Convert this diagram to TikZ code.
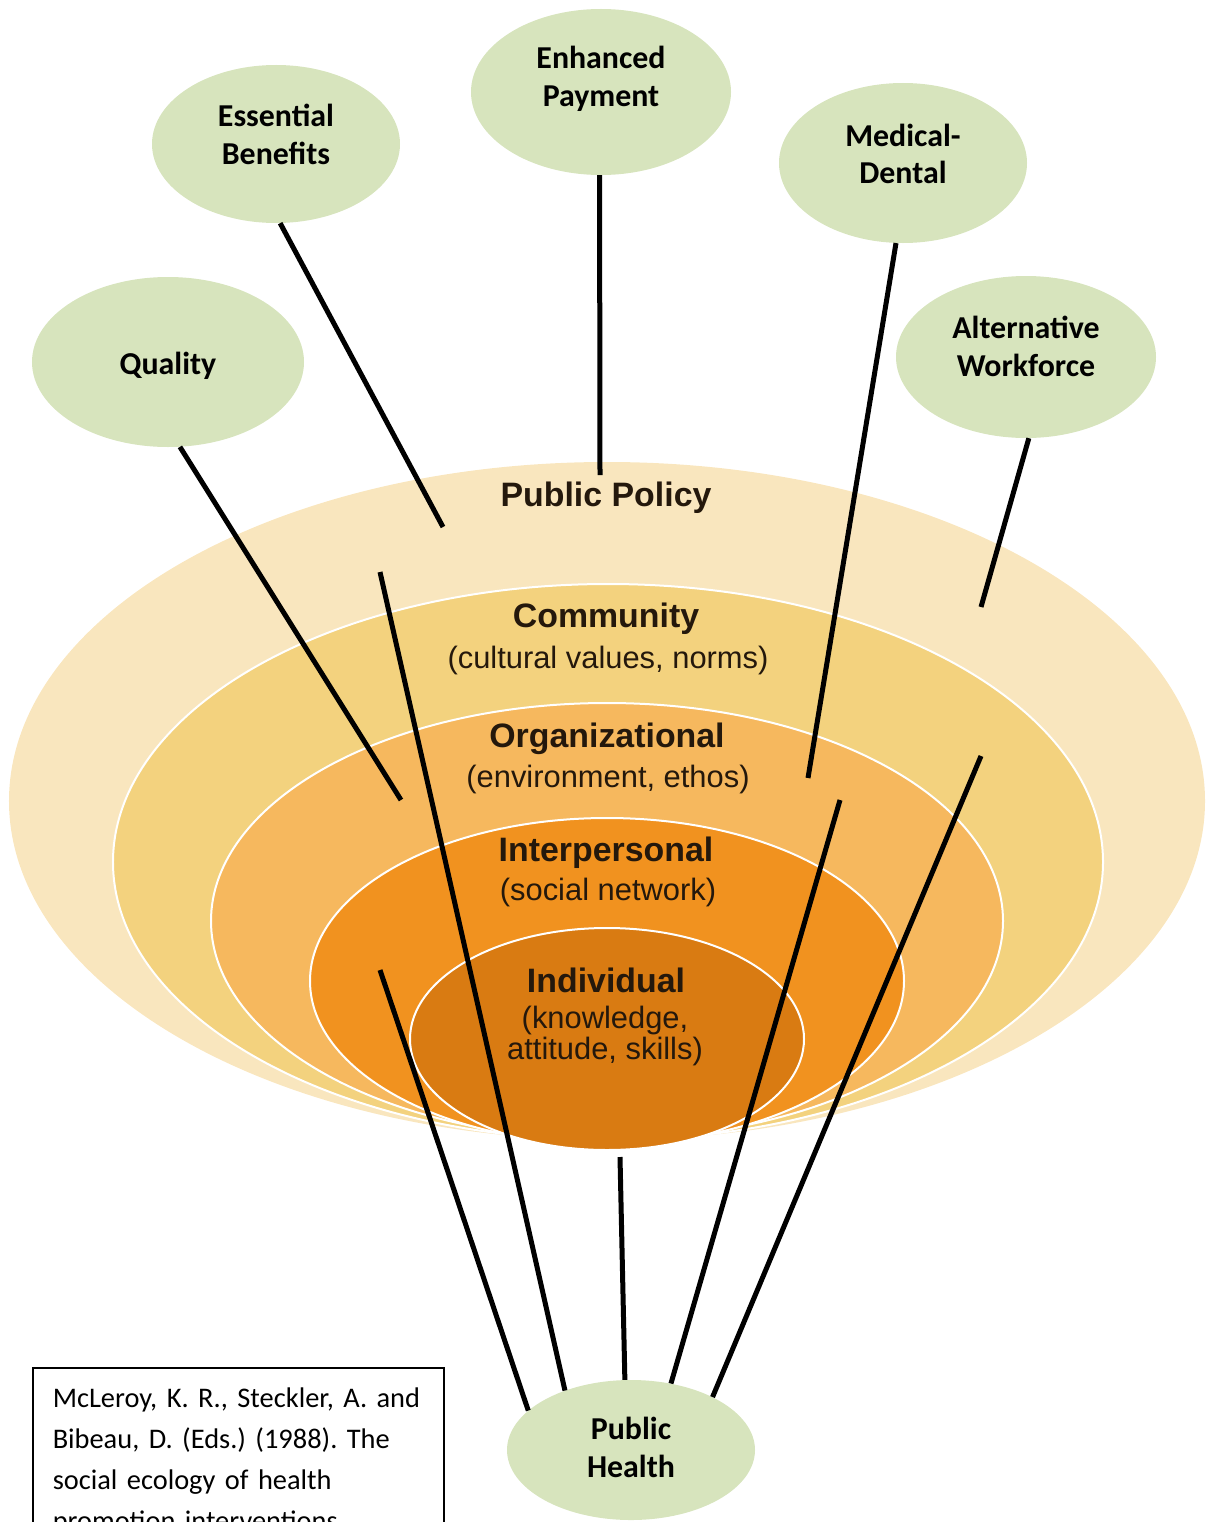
\documentclass[tikz,border=0pt]{standalone}
\usepackage{fontspec}
\setmainfont{Carlito}
\newfontfamily\ringfont{Liberation Sans}
\usetikzlibrary{shapes.geometric}
\definecolor{greenfill}{HTML}{D7E4BD}
\definecolor{ringA}{HTML}{F9E6BE}
\definecolor{ringB}{HTML}{F3D27E}
\definecolor{ringC}{HTML}{F6B85E}
\definecolor{ringD}{HTML}{F1921F}
\definecolor{ringE}{HTML}{D97B12}
\definecolor{ringtext}{HTML}{24180C}
\begin{document}
\begin{tikzpicture}[x=1bp,y=-1bp,
  gnode/.style={ellipse, fill=greenfill, inner sep=0pt},
  gtext/.style={align=center, inner sep=0pt, font=\fontsize{32}{38}\selectfont\bfseries},
  ringtitle/.style={inner sep=0pt, text=ringtext, font=\ringfont\fontsize{34}{36}\selectfont\bfseries},
  ringsub/.style={inner sep=0pt, text=ringtext, align=center, font=\ringfont\fontsize{31}{31}\selectfont},
  ringline/.style={draw=white, line width=2bp},
  conn/.style={line width=5bp, black}]
\useasboundingbox (0,0) rectangle (1207,1522);
\clip (0,0) rectangle (1207,1522);
% rings
\fill[ringA] (607,801) ellipse [x radius=598bp, y radius=339bp];
\filldraw[ringB, ringline] (608,862) ellipse [x radius=495bp, y radius=278bp];
\filldraw[ringC, ringline] (607,921) ellipse [x radius=396bp, y radius=218bp];
\filldraw[ringD, ringline] (607,981) ellipse [x radius=297bp, y radius=163bp];
\filldraw[ringE, ringline] (607,1039) ellipse [x radius=197bp, y radius=111bp];
% ring labels
\node[ringtitle] (pp) at (606,498) {Public Policy};
\node[ringtitle] (com) at (606,619) {Community};
\node[ringsub] (comS) at (608,661) {(cultural values, norms)};
\node[ringtitle] (org) at (607,739) {Organizational};
\node[ringsub] (orgS) at (608,779) {(environment, ethos)};
\node[ringtitle] (int) at (606,853) {Interpersonal};
\node[ringsub] (intS) at (608,892) {(social network)};
\node[ringtitle] (ind) at (606,980) {Individual};
\node[ringsub] (indS) at (605,1036) {(knowledge,\\attitude, skills)};
% green nodes
\node[gnode, minimum width=260bp, minimum height=166bp] (ep) at (601,92) {};
\node[gnode, minimum width=248bp, minimum height=158bp] (eb) at (276,144) {};
\node[gnode, minimum width=248bp, minimum height=160bp] (md) at (903,163) {};
\node[gnode, minimum width=272bp, minimum height=170bp] (q) at (168,362) {};
\node[gnode, minimum width=260bp, minimum height=162bp] (aw) at (1026,357) {};
\node[gnode, minimum width=248bp, minimum height=140bp] (ph) at (631,1450) {};
\node[gtext] (epT) at (601,79) {Enhanced\\Payment};
\node[gtext] (ebT) at (276,134) {Essential\\Benefits};
\node[gtext] (mdT) at (903,154) {Medical-\\Dental};
\node[gtext] (qT) at (168,366) {Quality};
\node[gtext] (awT) at (1026,346) {Alternative\\Workforce};
\node[gtext] (phT) at (631,1447) {Public\\Health};
% connector ends
\coordinate (epE) at (600,475);
\coordinate (ebE) at (443,527);
\coordinate (mdE) at (808,778);
\coordinate (qE) at (401,800);
\coordinate (awE) at (981,607);
\coordinate (ph1) at (380,970);
\coordinate (ph2) at (380,572);
\coordinate (ph3) at (620,1157);
\coordinate (ph4) at (840,800);
\coordinate (ph5) at (981,756);
\draw[conn] (ep.-91) -- (epE);
\draw[conn] (eb.-87) -- (ebE);
\draw[conn] (md.-95.6) -- (mdE);
\draw[conn] (q.-82) -- (qE);
\draw[conn] (aw.-88.6) -- (awE);
\draw[conn] (ph.159) -- (ph1);
\draw[conn] (ph.138) -- (ph2);
\draw[conn] (ph.95.6) -- (ph3);
\draw[conn] (ph.59.7) -- (ph4);
\draw[conn] (ph.33.4) -- (ph5);
% citation box
\node[draw, line width=1.5bp, anchor=north west, text width=371bp, inner xsep=20bp, inner ysep=20bp, align=left,
  font=\fontsize{28.5}{41}\selectfont\frenchspacing] (cite) at (32,1367)
  {McLeroy, K. R., Steckler, A. and\\Bibeau, D. (Eds.) (1988). The\\social ecology of health\\promotion interventions};
\end{tikzpicture}
\end{document}
